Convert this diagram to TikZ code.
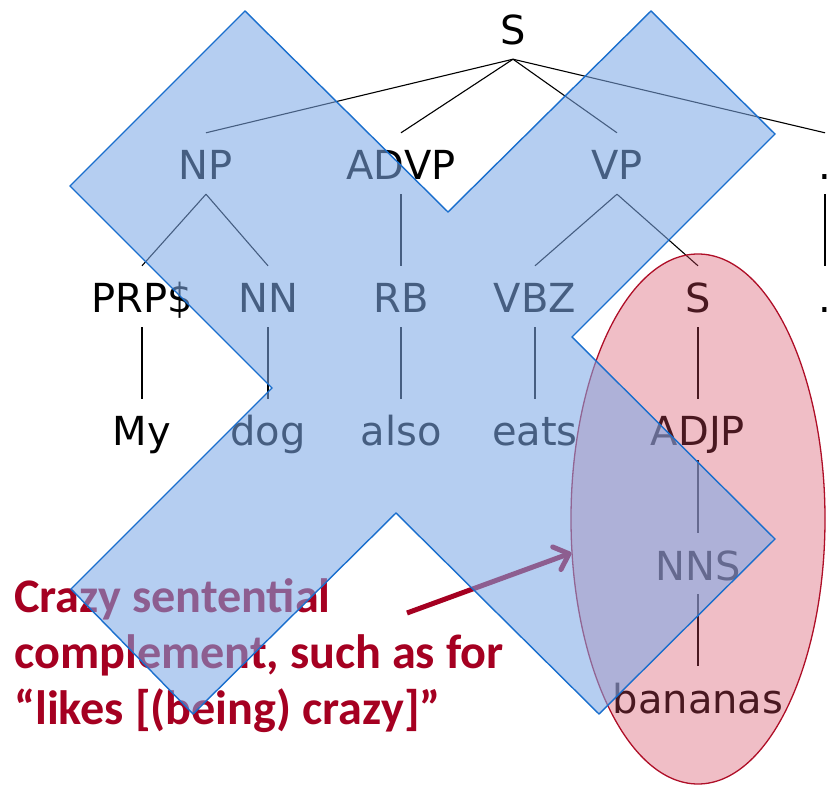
\documentclass[tikz,border=0pt]{standalone}
\usepackage{fontspec}
\usetikzlibrary{shapes.geometric,arrows.meta}
\newfontfamily\treefont{DejaVu Sans}
\newfontfamily\notefont{Carlito}
\definecolor{xblue}{RGB}{124,168,230}
\definecolor{xedge}{RGB}{25,110,205}
\definecolor{epink}{RGB}{212,70,92}
\definecolor{eedge}{RGB}{175,15,40}
\definecolor{notered}{RGB}{165,0,33}
\begin{document}
\begin{tikzpicture}[x=1pt,y=-1pt,
  tn/.style={font=\treefont\fontsize{40}{40}\selectfont, inner sep=0pt, text height=47pt, text depth=14pt, anchor=base},
  edge/.style={line width=1.1pt, black},
  note/.style={font=\notefont\bfseries\fontsize{48.2}{56}\selectfont, text=notered, inner sep=0pt, anchor=base west},
  blob/.style={ellipse, draw=eedge, line width=1.3pt, fill=epink, fill opacity=0.35, inner sep=0pt},
  cross/.style={draw=xedge, line width=1.4pt, fill=xblue, fill opacity=0.565, line join=miter},
  pointer/.style={line width=5pt, notered, -{Straight Barb[length=13pt,width=24pt,round]}}]
\useasboundingbox (0,0) rectangle (828,786);
\clip (0,0) rectangle (828,786);
% tree
\node[tn] (S) at (513,45) {S};
\node[tn] (NP) at (206,180) {NP};
\node[tn] (ADVP) at (401,180) {ADVP};
\node[tn] (VP) at (617,180) {VP};
\node[tn] (P1) at (825,180) {.};
\node[tn] (PRP) at (142,313) {PRP\$};
\node[tn] (NN) at (268,313) {NN};
\node[tn] (RB) at (401,313) {RB};
\node[tn] (VBZ) at (535,313) {VBZ};
\node[tn] (S2) at (698,313) {S};
\node[tn] (P2) at (825,313) {.};
\node[tn] (My) at (142,446) {My};
\node[tn] (dog) at (268,446) {dog};
\node[tn] (also) at (401,446) {also};
\node[tn] (eats) at (535,446) {eats};
\node[tn] (ADJP) at (698,446) {ADJP};
\node[tn] (NNS) at (698,580) {NNS};
\node[tn] (ban) at (698,713) {bananas};
\draw[edge] (S.south) -- (NP.north);
\draw[edge] (S.south) -- (ADVP.north);
\draw[edge] (S.south) -- (VP.north);
\draw[edge] (S.south) -- (P1.north);
\draw[edge] (NP.south) -- (PRP.north);
\draw[edge] (NP.south) -- (NN.north);
\draw[edge] (ADVP.south) -- (RB.north);
\draw[edge] (VP.south) -- (VBZ.north);
\draw[edge] (VP.south) -- (S2.north);
\draw[edge] (P1.south) -- (P2.north);
\draw[edge] (PRP.south) -- (My.north);
\draw[edge] (NN.south) -- (dog.north);
\draw[edge] (RB.south) -- (also.north);
\draw[edge] (VBZ.south) -- (eats.north);
\draw[edge] (S2.south) -- (ADJP.north);
\draw[edge] (ADJP.south) -- (NNS.north);
\draw[edge] (NNS.south) -- (ban.north);
% ellipse
\node[blob, minimum width=254pt, minimum height=530pt] (E) at (698,519) {};
% annotation
\node[note] (t1) at (14,612) {Crazy sentential};
\node[note] (t2) at (14,668) {complement, such as for};
\node[note] (t3) at (14,724) {“likes [(being) crazy]”};
\coordinate (as) at (407,613);
\draw[pointer] (as) -- (E.195);
% the cross
\draw[cross] (245,11) -- (448,212) -- (651,11) -- (775,134) -- (572,337) -- (775,539) -- (599,714) -- (396,513) -- (193,714) -- (71,589) -- (272,388) -- (70,186) -- cycle;
\end{tikzpicture}
\end{document}
